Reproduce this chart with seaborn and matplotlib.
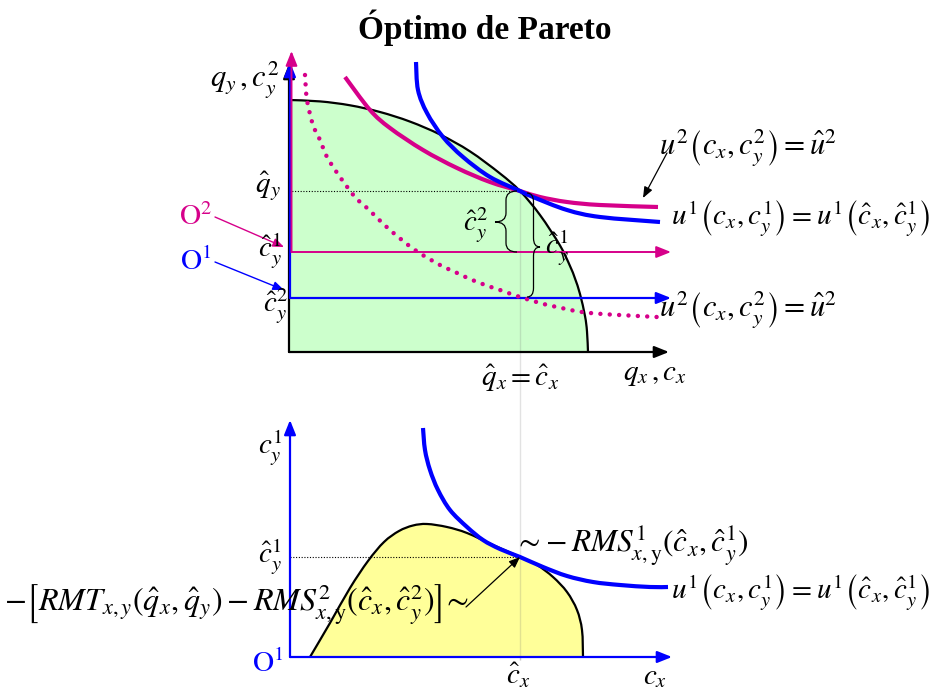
import numpy as np
import matplotlib
matplotlib.use("Agg")
import matplotlib.pyplot as plt
from matplotlib.path import Path
from matplotlib.patches import PathPatch
import pandas as pd
import seaborn as sns

sns.set_theme(style="white")
plt.rcParams["font.family"] = ["Liberation Serif", "DejaVu Serif"]
plt.rcParams["mathtext.fontset"] = "stix"

MAGENTA = "#d6008a"
BLUE = "#0000ff"
GREEN = "#ccffcc"
YELLOW = "#ffff99"

# ---------------- top panel: production frontier and indifference curves ----------------
frontier_x = [0, 3.1, 6.1, 9.1, 12.1, 15.1, 18.1, 21.1, 23.1, 25.1, 27.1, 28.1, 28.6, 29.1, 29.6, 29.8, 29.9]
frontier_y = [25.2, 25.06, 24.67, 24.0, 23.04, 21.75, 20.06, 17.85, 16.1, 13.7, 10.65, 8.6, 7.35, 5.8, 3.6, 2.06, 0]

u2_x = [5.6, 8.1, 10.1, 13.4, 16.8, 20.1, 23.1, 25.1, 27.8, 31.1, 36.9]
u2_y = [27.5, 24.2, 22.4, 20.2, 18.4, 17.0, 16.1, 15.5, 15.0, 14.7, 14.5]

u1_x = [12.7, 12.9, 13.8, 15.4, 17.4, 20.1, 23.1, 24.4, 27.8, 31.1, 37.1]
u1_y = [29.0, 26.2, 23.9, 21.5, 19.5, 17.5, 16.1, 15.5, 14.2, 13.5, 13.0]

u2_dot_x = [1.6, 1.8, 2.4, 3.1, 3.8, 5.1, 6.6, 7.8, 10.1, 12.6, 15.1, 16.6, 18.8, 21.1, 22.8, 25.1, 26.8, 30.1, 36.8]
u2_dot_y = [27.7, 25.2, 22.7, 21.2, 19.5, 17.5, 15.5, 14.4, 12.2, 10.2, 8.7, 8.0, 7.0, 6.2, 5.6, 4.9, 4.5, 3.9, 3.5]

q_hat = (23.1, 16.1)      # Pareto optimum (q_x, q_y)
o2_level = 10.0          # height of consumer 2's origin
o1_level = 5.4           # height of consumer 1's origin

# ---------------- bottom panel: consumer 1 ----------------
set1_x = [2.0, 4.0, 6.0, 7.8, 9.4, 10.9, 12.3, 13.7, 15.7, 17.7, 20.3, 23.0, 24.7, 26.3, 27.7, 28.7, 29.2, 29.3]
set1_y = [0, 3.4, 6.9, 9.6, 11.5, 12.6, 13.15, 13.3, 13.0, 12.4, 11.2, 10.0, 9.2, 8.0, 6.5, 4.7, 2.7, 0]

ind1_x = [13.3, 13.5, 14.0, 14.8, 16.0, 17.7, 19.3, 21.0, 23.0, 25.3, 27.7, 30.3, 33.0, 36.0, 37.8]
ind1_y = [22.9, 20.7, 18.7, 16.7, 14.7, 13.0, 11.7, 10.8, 10.0, 9.0, 8.1, 7.5, 7.2, 7.0, 7.0]

c_hat = (23.0, 10.0)

W, H = 936, 689
fig = plt.figure(figsize=(W / 100, H / 100), dpi=100)

# both panels share the full canvas; 1 data unit = 10 px
ax_top = fig.add_axes([0, 0, 1, 1])
ax_top.set_xlim(-28.9, 64.7)
ax_top.set_ylim(-33.7, 35.2)
ax_bot = fig.add_axes([0, 0, 1, 1])
ax_bot.set_xlim(-29.0, 64.6)
ax_bot.set_ylim(-3.2, 65.7)
for a in (ax_top, ax_bot):
    a.set_axis_off()
    a.patch.set_alpha(0)


def smooth(xs, ys):
    """Cubic Bezier segments running through every point (Catmull-Rom)."""
    p = np.column_stack([xs, ys]).astype(float)
    n = len(p)
    verts, codes = [], []
    for i in range(n - 1):
        p0 = p[i - 1] if i > 0 else p[i]
        p1, p2 = p[i], p[i + 1]
        p3 = p[i + 2] if i + 2 < n else p[i + 1]
        verts += [p1 + (p2 - p0) / 6, p2 - (p3 - p1) / 6, p2]
        codes += [Path.CURVE4] * 3
    return p[0], verts, codes


def curve(ax, xs, ys, **kw):
    start, v, c = smooth(xs, ys)
    patch = PathPatch(Path([start] + v, [Path.MOVETO] + c), fill=False, **kw)
    ax.add_patch(patch)
    return patch


def region(ax, xs, ys, face, prefix=()):
    start, v, c = smooth(xs, ys)
    pre = [np.array(q, float) for q in prefix]
    verts = pre + [start] + v + [start]
    codes = [Path.MOVETO] + [Path.LINETO] * len(pre) + c + [Path.CLOSEPOLY]
    ax.add_patch(PathPatch(Path(verts, codes), facecolor=face, edgecolor="none", zorder=1))


def arrow(ax, start, end, color, lw, z=4, head="-|>,head_length=0.55,head_width=0.22", ms=16):
    ax.annotate("", xy=end, xytext=start,
                arrowprops=dict(arrowstyle=head, color=color, lw=lw,
                                shrinkA=0, shrinkB=0, mutation_scale=ms),
                zorder=z)


def brace(ax, x_open, x_tip, y_top, y_bot, y_mid, d=0.9, **kw):
    xm = (x_open + x_tip) / 2
    verts = [(x_open, y_top), (xm, y_top), (xm, y_top - d),
             (xm, y_mid + d), (xm, y_mid), (x_tip, y_mid),
             (xm, y_mid), (xm, y_mid - d),
             (xm, y_bot + d), (xm, y_bot), (x_open, y_bot)]
    codes = [Path.MOVETO, Path.CURVE3, Path.CURVE3,
             Path.LINETO, Path.CURVE3, Path.CURVE3,
             Path.CURVE3, Path.CURVE3,
             Path.LINETO, Path.CURVE3, Path.CURVE3]
    ax.add_patch(PathPatch(Path(verts, codes), fill=False, **kw))


def label(x, y, s, size=20, color="black", ha="center", va="center", **kw):
    fig.text(x / W, 1 - y / H, s, fontsize=size, color=color, ha=ha, va=va, **kw)


# ----- top panel drawing -----
region(ax_top, frontier_x, frontier_y, GREEN, prefix=[(0, 0)])
curve(ax_top, frontier_x, frontier_y, color="black", lw=1.6, zorder=3)

# guides through the optimum
sns.lineplot(x=[0, q_hat[0]], y=[q_hat[1], q_hat[1]], ax=ax_top, color="black",
             lw=0.8, linestyle=(0, (1, 1.5)), zorder=2)
sns.lineplot(x=[q_hat[0], q_hat[0]], y=[q_hat[1], -30.8], ax=ax_top, color="#707070",
             lw=1.0, linestyle=(0, (1, 1)), zorder=2)

# main axes and the two consumers' origins
arrow(ax_top, (0, 0), (0, 28.8), "black", 1.6, z=4)
arrow(ax_top, (0, 0), (38.0, 0), "black", 1.6, z=4)
arrow(ax_top, (0.1, o1_level), (0.1, 29.0), BLUE, 1.6, z=5)
arrow(ax_top, (0.1, o1_level), (38.2, o1_level), BLUE, 1.6, z=5)
arrow(ax_top, (0.25, o2_level), (0.25, 30.1), MAGENTA, 1.4, z=5)
arrow(ax_top, (0.25, o2_level), (38.2, o2_level), MAGENTA, 1.4, z=5)

dots = curve(ax_top, u2_dot_x, u2_dot_y, color=MAGENTA, lw=3.2,
             linestyle=(0, (0.01, 2.1)), zorder=6)
dots.set_capstyle("round")
curve(ax_top, u2_x, u2_y, color=MAGENTA, lw=3.0, zorder=6)
curve(ax_top, u1_x, u1_y, color=BLUE, lw=3.0, zorder=6)

brace(ax_top, 22.8, 20.6, 16.1, 10.0, 13.0, color="black", lw=0.9, zorder=7)
brace(ax_top, 23.8, 25.1, 15.9, 5.5, 10.5, color="black", lw=0.9, zorder=7)

# ----- bottom panel drawing -----
region(ax_bot, set1_x, set1_y, YELLOW)
curve(ax_bot, set1_x, set1_y, color="black", lw=1.6, zorder=3)
sns.lineplot(x=[0, c_hat[0]], y=[c_hat[1], c_hat[1]], ax=ax_bot, color="black",
             lw=0.8, linestyle=(0, (1, 1.5)), zorder=2)
sns.lineplot(x=[c_hat[0], c_hat[0]], y=[c_hat[1], -0.3], ax=ax_bot, color="#707070",
             lw=1.0, linestyle=(0, (1, 1)), zorder=2)
arrow(ax_bot, (0, 0), (0, 23.7), BLUE, 1.6)
arrow(ax_bot, (0, 0), (38.2, 0), BLUE, 1.6)
curve(ax_bot, ind1_x, ind1_y, color=BLUE, lw=3.0, zorder=6)

# ----- text -----
label(485, 28, "Óptimo de Pareto", size=24, weight="bold")

label(245, 80, r"$q_y\,,c_y^2$", size=22)
label(268, 186, r"$\hat{q}_y$", size=21)
label(270, 250, r"$\hat{c}_y^1$", size=21)
label(276, 306, r"$\hat{c}_y^2$", size=21)
label(196, 217, r"$\mathrm{O}^2$", size=21, color=MAGENTA)
label(196, 262, r"$\mathrm{O}^1$", size=21, color=BLUE)
arrow(ax_top, (-7.4, 13.5), (-0.5, 10.5), MAGENTA, 1.0, z=8, ms=12)
arrow(ax_top, (-7.4, 9.0), (-0.5, 6.2), BLUE, 1.0, z=8, ms=12)

label(476, 225, r"$\hat{c}_y^2$", size=21)
label(557, 247, r"$\hat{c}_y^1$", size=21)
label(520, 378, r"$\hat{q}_x = \hat{c}_x$", size=21)
label(655, 375, r"$q_x\,,c_x$", size=21)

label(659, 148, r"$u^2\left(c_x,c_y^2\right)=\hat{u}^2$", size=22, ha="left")
arrow(ax_top, (37.8, 19.9), (35.4, 15.4), "black", 0.9, z=8, ms=12)
label(671, 218, r"$u^1\left(c_x,c_y^1\right)=u^1\left(\hat{c}_x,\hat{c}_y^1\right)$", size=21, ha="left")
label(659, 310, r"$u^2\left(c_x,c_y^2\right)=\hat{u}^2$", size=22, ha="left")

label(270, 447, r"$c_y^1$", size=21)
label(270, 556, r"$\hat{c}_y^1$", size=21)
label(268, 664, r"$\mathrm{O}^1$", size=21, color=BLUE)
label(518, 676, r"$\hat{c}_x$", size=21)
label(655, 677, r"$c_x$", size=21)

label(514, 546, r"$\sim\!-RMS^1_{x,\mathrm{y}}(\hat{c}_x,\hat{c}_y^1)$", size=22.5, ha="left")
label(671, 592, r"$u^1\left(c_x,c_y^1\right)=u^1\left(\hat{c}_x,\hat{c}_y^1\right)$", size=21, ha="left")
label(4, 605, r"$-\left[RMT_{x,y}(\hat{q}_x,\hat{q}_y)-RMS^2_{x,\mathrm{y}}(\hat{c}_x,\hat{c}_y^2)\right]\!\sim$",
      size=23, ha="left")
arrow(ax_bot, (17.6, 5.0), (c_hat[0], c_hat[1]), "black", 0.9, z=8, ms=12)

fig.savefig("out.png", dpi=100)
